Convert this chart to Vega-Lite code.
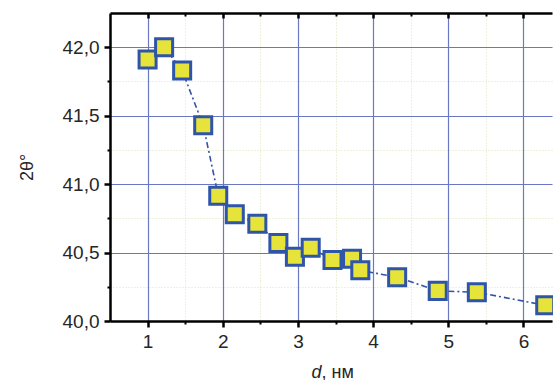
{
  "$schema": "https://vega.github.io/schema/vega-lite/v6.json",
  "width": 442,
  "height": 308,
  "autosize": "none",
  "padding": {"left": 110, "top": 13, "right": 1, "bottom": 59},
  "background": "white",
  "config": {
    "view": {"stroke": null},
    "axis": {"labelFont": "Liberation Sans", "titleFont": "Liberation Sans", "labelFontSize": 19, "titleFontSize": 18, "titleFontWeight": "normal", "labelColor": "#262626", "titleColor": "#262626", "tickColor": "#000", "domainColor": "#000"}
  },
  "data": {"values": [
    {"d": 1.0, "t": 41.91},
    {"d": 1.22, "t": 42.0},
    {"d": 1.46, "t": 41.83},
    {"d": 1.74, "t": 41.43},
    {"d": 1.94, "t": 40.915},
    {"d": 2.16, "t": 40.78},
    {"d": 2.46, "t": 40.71},
    {"d": 2.74, "t": 40.57},
    {"d": 2.96, "t": 40.47},
    {"d": 3.17, "t": 40.535},
    {"d": 3.46, "t": 40.445},
    {"d": 3.72, "t": 40.455},
    {"d": 3.83, "t": 40.37},
    {"d": 4.32, "t": 40.32},
    {"d": 4.86, "t": 40.22},
    {"d": 5.38, "t": 40.21},
    {"d": 6.29, "t": 40.115}
  ]},
  "resolve": {"axis": {"x": "independent", "y": "independent"}},
  "layer": [
    {
      "mark": {"type": "point", "opacity": 0},
      "encoding": {
        "x": {"field": "d", "type": "quantitative", "scale": {"domain": [0.5, 6.38], "nice": false, "zero": false},
          "axis": {"orient": "bottom", "values": [1.5, 2.5, 3.5, 4.5, 5.5], "labels": false, "domain": false, "tickSize": 3, "tickWidth": 2, "grid": true, "gridColor": "#d9e4b8", "gridDash": [1, 2], "gridWidth": 1, "title": "d", "titleFontStyle": "italic", "titleX": 211, "titleY": 42, "titleAlign": "right"}},
        "y": {"field": "t", "type": "quantitative", "scale": {"domain": [40, 42.25], "nice": false, "zero": false},
          "axis": {"orient": "left", "values": [40.25, 40.75, 41.25, 41.75], "labels": false, "domain": false, "tickSize": 3, "tickWidth": 2, "grid": true, "gridColor": "#d9e4b8", "gridDash": [1, 2], "gridWidth": 1, "title": null}}
      }
    },
    {
      "mark": {"type": "point", "opacity": 0},
      "encoding": {
        "x": {"field": "d", "type": "quantitative",
          "axis": {"orient": "top", "values": [1, 2, 3, 4, 5, 6], "labels": false, "domain": true, "domainWidth": 2.5, "tickSize": -5, "tickWidth": 2.5, "grid": false, "title": null}},
        "y": {"field": "t", "type": "quantitative", "axis": null}
      }
    },
    {
      "mark": {"type": "point", "opacity": 0},
      "encoding": {
        "x": {"field": "d", "type": "quantitative",
          "axis": {"orient": "top", "values": [1.5, 2.5, 3.5, 4.5, 5.5], "labels": false, "domain": false, "tickSize": -3, "tickWidth": 2, "grid": false, "title": null}},
        "y": {"field": "t", "type": "quantitative", "axis": null}
      }
    },
    {
      "mark": {"type": "line", "color": "#3553a6", "strokeWidth": 1.6, "strokeDash": [6, 3, 2, 3]},
      "encoding": {
        "x": {"field": "d", "type": "quantitative",
          "axis": {"orient": "bottom", "values": [1, 2, 3, 4, 5, 6], "domainWidth": 2.5, "tickSize": 6, "tickWidth": 2.5, "labelPadding": 5, "grid": true, "gridColor": "#6a78c4", "gridWidth": 1.2, "title": ", нм", "titleX": 211, "titleY": 42, "titleAlign": "left"}},
        "y": {"field": "t", "type": "quantitative",
          "axis": {"orient": "left", "values": [40, 40.5, 41, 41.5, 42], "labelExpr": "replace(format(datum.value, '.1f'), '.', ',')", "domainWidth": 2.5, "tickSize": 6, "tickWidth": 2.5, "labelPadding": 5, "grid": true, "gridColor": "#6a78c4", "gridWidth": 1.2, "title": "2θ°", "titlePadding": 26}}
      }
    },
    {
      "mark": {"type": "point", "shape": "square", "size": 290, "filled": true, "fill": "#e6e33a", "stroke": "#2e55a8", "strokeWidth": 3, "opacity": 1},
      "encoding": {
        "x": {"field": "d", "type": "quantitative", "axis": null},
        "y": {"field": "t", "type": "quantitative", "axis": null}
      }
    }
  ]
}
